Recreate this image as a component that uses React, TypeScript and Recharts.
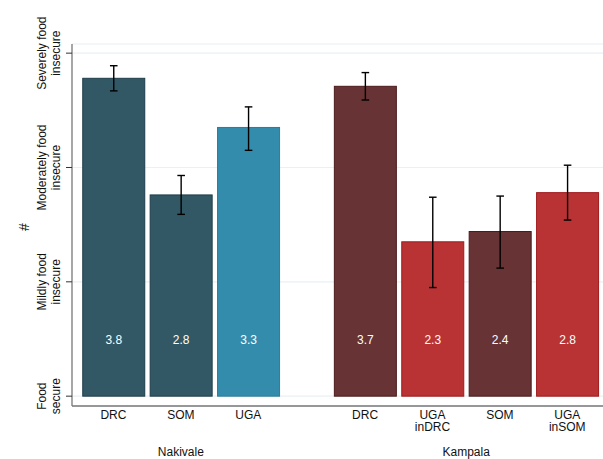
import React from 'react';
import { BarChart, Bar, XAxis, YAxis, CartesianGrid, Cell, Label } from 'recharts';

const groups = ['Nakivale', 'Kampala'];
const groupOf = [0, 0, 0, 1, 1, 1, 1];
const categories = ['DRC', 'SOM', 'UGA', 'DRC', 'UGA\ninDRC', 'SOM', 'UGA\ninSOM'];
const origin = ['DRC', 'SOM', 'UGA', 'DRC', 'UGA', 'SOM', 'UGA'];
const means = [3.78, 2.76, 3.35, 3.71, 2.35, 2.44, 2.78];
const ciLow = [3.67, 2.59, 3.15, 3.59, 1.95, 2.12, 2.54];
const ciHigh = [3.89, 2.93, 3.53, 3.83, 2.74, 2.75, 3.02];
const valueLabels = ['3.8', '2.8', '3.3', '3.7', '2.3', '2.4', '2.8'];
const yTicks = [1, 2, 3, 4];
const yTickLabels = ['Food\nsecure', 'Mildly food\ninsecure', 'Moderately food\ninsecure', 'Severely food\ninsecure'];

// space between the two groups, in bar slots
const GROUP_GAP = 0.733;
const FONT = '"Liberation Sans", Arial, Helvetica, sans-serif';

const palette: Record<string, { fill: string; stroke: string }> = {
  'Nakivale-other': { fill: '#325866', stroke: '#1d3d4a' },
  'Nakivale-UGA': { fill: '#348cad', stroke: '#2a7b9a' },
  'Kampala-other': { fill: '#673334', stroke: '#4b1b1c' },
  'Kampala-UGA': { fill: '#b93335', stroke: '#a0191c' },
};

const data = means.map((m, i) => ({
  pos: i + groupOf[i] * GROUP_GAP,
  name: categories[i],
  group: groups[groupOf[i]],
  mean: m,
  lo: ciLow[i],
  hi: ciHigh[i],
  label: valueLabels[i],
  colorKey: groups[groupOf[i]] + '-' + (origin[i] === 'UGA' ? 'UGA' : 'other'),
}));

const positions = data.map((d) => d.pos);
const groupCenters = groups.map((_, g) => {
  const ps = data.filter((d, i) => groupOf[i] === g).map((d) => d.pos);
  return (Math.min(...ps) + Math.max(...ps)) / 2;
});

const BarWithError = (props: any) => {
  const { x, y, width, height, payload, fill, stroke } = props;
  const ppu = height / (payload.mean - 1);
  const cx = x + width / 2;
  const yHi = y - (payload.hi - payload.mean) * ppu;
  const yLo = y + (payload.mean - payload.lo) * ppu;
  const base = y + height;
  return (
    <g>
      <rect x={x} y={y} width={width} height={height} fill={fill} stroke={stroke} strokeWidth={1} />
      <text x={cx} y={base - 0.46 * ppu} textAnchor="middle" fill="#ffffff" fontSize={12} fontFamily={FONT}>
        {payload.label}
      </text>
      <line x1={cx} x2={cx} y1={yHi} y2={yLo} stroke="#000" strokeWidth={1.4} />
      <line x1={cx - 3.8} x2={cx + 3.8} y1={yHi} y2={yHi} stroke="#000" strokeWidth={1.4} />
      <line x1={cx - 3.8} x2={cx + 3.8} y1={yLo} y2={yLo} stroke="#000" strokeWidth={1.4} />
    </g>
  );
};

const CategoryTick = (props: any) => {
  const { x, y, payload } = props;
  const idx = positions.findIndex((p) => Math.abs(p - payload.value) < 1e-6);
  if (idx < 0) return null;
  const lines = categories[idx].split('\n');
  return (
    <g>
      {lines.map((l, k) => (
        <text key={k} x={x} y={y + 12.5 + k * 12.5} textAnchor="middle" fontSize={12} fill="#111" fontFamily={FONT}>
          {l}
        </text>
      ))}
    </g>
  );
};

const GroupTick = (props: any) => {
  const { x, y, payload } = props;
  const idx = groupCenters.findIndex((p) => Math.abs(p - payload.value) < 1e-6);
  if (idx < 0) return null;
  return (
    <text x={x} y={y + 20} textAnchor="middle" fontSize={12} fill="#111" fontFamily={FONT}>
      {groups[idx]}
    </text>
  );
};

const LevelTick = (props: any) => {
  const { x, y, payload } = props;
  const idx = yTicks.indexOf(payload.value);
  if (idx < 0) return null;
  const lines = yTickLabels[idx].split('\n');
  return (
    <g>
      {lines.map((l, k) => {
        const bx = x - 19.5 + k * 13.5;
        return (
          <text
            key={k}
            x={bx}
            y={y}
            transform={`rotate(-90 ${bx} ${y})`}
            textAnchor="middle"
            fontSize={12}
            fill="#111"
            fontFamily={FONT}
          >
            {l}
          </text>
        );
      })}
    </g>
  );
};

export default function App() {
  return (
    <div style={{ width: 603, height: 459, background: '#fff' }}>
      <style>{'body{margin:0}'}</style>
      <BarChart width={603} height={459} data={data} margin={{ top: 44, right: 0, left: 0, bottom: 0 }}>
        <CartesianGrid vertical={false} stroke="#eaf0f3" strokeWidth={1.2} />
        <XAxis
          dataKey="pos"
          type="number"
          domain={[-0.615, 7.263]}
          ticks={positions}
          interval={0}
          tick={CategoryTick}
          tickLine={false}
          tickSize={0}
          tickMargin={0}
          axisLine={{ stroke: '#777', strokeWidth: 1.3 }}
          height={30}
        />
        <XAxis
          xAxisId="grp"
          dataKey="pos"
          type="number"
          domain={[-0.615, 7.263]}
          ticks={groupCenters}
          interval={0}
          tick={GroupTick}
          tickLine={false}
          tickSize={0}
          tickMargin={0}
          axisLine={false}
          height={23}
        />
        <YAxis
          type="number"
          domain={[0.914, 4.08]}
          ticks={yTicks}
          interval={0}
          tick={LevelTick}
          tickSize={6}
          tickMargin={0}
          tickLine={{ stroke: '#333' }}
          axisLine={{ stroke: '#777', strokeWidth: 1.3 }}
          width={72}
        >
          <Label
            content={() => (
              <text
                x={29}
                y={227}
                transform="rotate(-90 29 227)"
                textAnchor="middle"
                fontSize={14}
                fill="#111"
                fontFamily={FONT}
              >
                #
              </text>
            )}
          />
        </YAxis>
        <Bar
          dataKey={(d: any) => [1, d.mean]}
          barSize={62}
          isAnimationActive={false}
          shape={BarWithError}
        >
          {data.map((d, i) => (
            <Cell key={i} fill={palette[d.colorKey].fill} stroke={palette[d.colorKey].stroke} />
          ))}
        </Bar>
      </BarChart>
    </div>
  );
}
